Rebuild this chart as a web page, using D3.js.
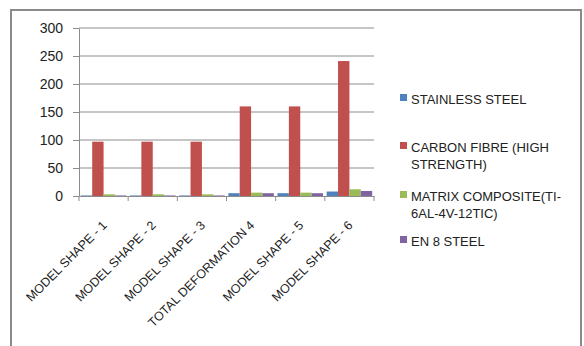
<!DOCTYPE html>
<html><head><meta charset="utf-8">
<script src="https://cdn.jsdelivr.net/npm/d3@7"></script>
<style>body{margin:0;background:#fff}</style>
</head><body>
<script>
const categories = ["MODEL SHAPE - 1","MODEL SHAPE -  2","MODEL SHAPE - 3","TOTAL DEFORMATION 4","MODEL SHAPE -  5","MODEL SHAPE - 6"];
const seriesNames = ["STAINLESS STEEL","CARBON FIBRE (HIGH STRENGTH)","MATRIX COMPOSITE(TI-6AL-4V-12TIC)","EN 8 STEEL"];
const legendLines = [["STAINLESS STEEL"],["CARBON FIBRE (HIGH","STRENGTH)"],["MATRIX COMPOSITE(TI-","6AL-4V-12TIC)"],["EN 8 STEEL"]];
const stainless = [1,1,1,5,5,8];
const carbon = [97,97,97,160,160,241];
const matrix = [3,3,3,6,6,12];
const en8 = [1,1,1,5,5,9];
const colors = ["#4F81BD","#C0504D","#9BBB59","#8064A2"];
const yTicks = [0,50,100,150,200,250,300];

(function(){
const W=584,H=346;
const svg=d3.select("body").append("svg").attr("width",W).attr("height",H);
svg.append("rect").attr("x",11).attr("y",10).attr("width",570).attr("height",345)
  .attr("fill","none").attr("stroke","#8a8a8a").attr("stroke-width",2);

const pl=79,pr=374,pt=28,pb=196;
const x=d3.scaleBand().domain(categories).range([pl,pr]).paddingInner(0).paddingOuter(0);
const y=d3.scaleLinear().domain([0,300]).range([pb,pt]);
const inner=d3.scaleBand().domain(seriesNames).range([0,x.bandwidth()]).paddingInner(0).paddingOuter(0.16);

const g=svg.append("g").attr("font-family","'Liberation Sans',Arial,sans-serif");
g.selectAll(".grid").data(yTicks.filter(d=>d>0)).join("line")
  .attr("x1",pl).attr("x2",pr).attr("y1",d=>y(d)).attr("y2",d=>y(d))
  .attr("stroke","#8c8c8c").attr("stroke-width",1);

const data=[stainless,carbon,matrix,en8];
seriesNames.forEach((s,si)=>{
  g.append("g").selectAll("rect").data(categories).join("rect")
    .attr("x",(c)=>x(c)+inner(s)).attr("width",inner.bandwidth())
    .attr("y",(c,i)=>y(data[si][i])).attr("height",(c,i)=>pb-y(data[si][i]))
    .attr("fill",colors[si]);
});

const ya=g.append("g").attr("transform",`translate(${pl},0)`)
  .call(d3.axisLeft(y).tickValues(yTicks).tickSizeInner(6).tickSizeOuter(0).tickPadding(10));
ya.select(".domain").attr("stroke","#8c8c8c");
ya.selectAll(".tick line").attr("stroke","#8c8c8c");
ya.selectAll("text").attr("font-size",14).attr("fill","#222").attr("font-family","'Liberation Sans',Arial,sans-serif");

const xa=g.append("g").attr("transform",`translate(0,${pb})`)
  .call(d3.axisBottom(x).tickSize(0).tickFormat(""));
xa.select(".domain").attr("stroke","#8c8c8c");
g.append("g").selectAll("line").data(d3.range(categories.length+1)).join("line")
  .attr("x1",i=>pl+i*x.step()).attr("x2",i=>pl+i*x.step())
  .attr("y1",pb).attr("y2",pb+5).attr("stroke","#8c8c8c");
g.append("g").selectAll("text").data(categories).join("text")
  .attr("transform",d=>`translate(${x(d)+x.bandwidth()/2+4},${pb+30}) rotate(-45)`)
  .attr("text-anchor","end").attr("font-size",12.5).attr("fill","#222").text(d=>d);

const legY=[100,148,197,242];
legendLines.forEach((lines,i)=>{
  g.append("rect").attr("x",400).attr("y",legY[i]-6).attr("width",7).attr("height",7).attr("fill",colors[i]);
  lines.forEach((t,j)=>{
    g.append("text").attr("x",411).attr("y",legY[i]+j*17+4).attr("font-size",13).attr("fill","#222").text(t);
  });
});
})();
</script>
</body></html>
